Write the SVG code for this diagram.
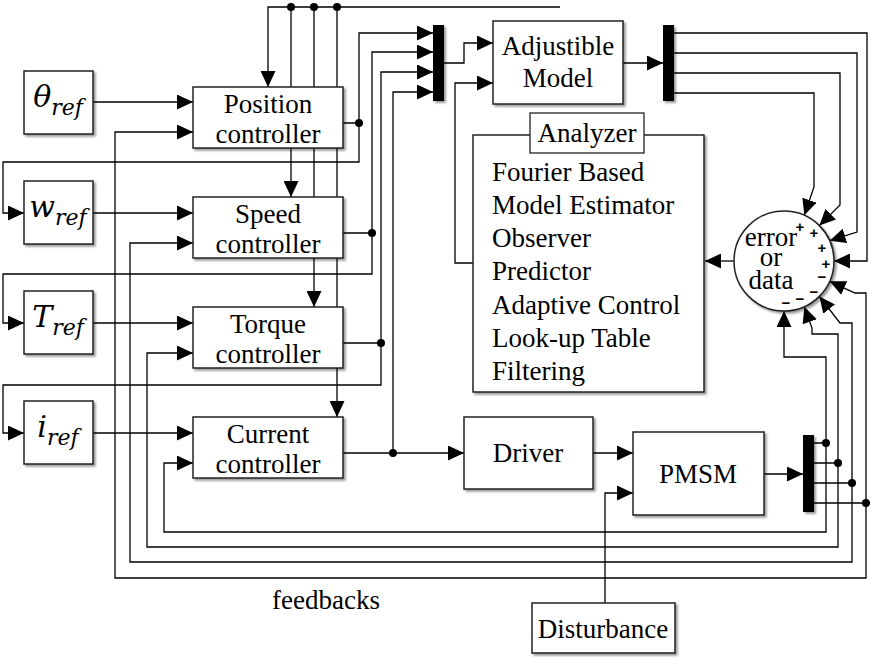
<svg xmlns="http://www.w3.org/2000/svg" width="873" height="658" viewBox="0 0 873 658">
<defs>
<style>
.ln{fill:none;stroke:#000;stroke-width:1.3}
.ar{marker-end:url(#ah)}
.box{fill:#fff;stroke:#222;stroke-width:1.5;filter:url(#sh)}
.bar{fill:#000;filter:url(#sh)}
.dot{fill:#000}
.t{font-family:"Liberation Serif","Times New Roman",serif;font-size:27px;fill:#000;text-anchor:middle}
.tl{font-family:"Liberation Serif","Times New Roman",serif;font-size:27px;fill:#000}
.m{font-family:"DejaVu Serif",serif;font-style:italic;fill:#000;text-anchor:middle}
.s{font-family:"Liberation Sans",Arial,sans-serif;font-weight:bold;font-size:15px;fill:#000;text-anchor:middle}
</style>
<marker id="ah" markerUnits="userSpaceOnUse" markerWidth="16" markerHeight="15" refX="16" refY="7.5" orient="auto">
<path d="M0,0 L16,7.5 L0,15 z" fill="#000"/>
</marker>
<filter id="sh" x="-50%" y="-10%" width="200%" height="130%">
<feDropShadow dx="2" dy="2" stdDeviation="1.2" flood-color="#000" flood-opacity="0.4"/>
</filter>
</defs>
<rect width="873" height="658" fill="#fff"/>

<g id="connectors">
<path class="ln ar" d="M93,102 H193"/>
<path class="ln ar" d="M93,213 H193"/>
<path class="ln ar" d="M93,323 H193"/>
<path class="ln ar" d="M93,433 H193"/>
<path class="ln ar" d="M560,7 H268 V87"/>
<path class="ln ar" d="M291,7 V197"/>
<path class="ln ar" d="M314,7 V307"/>
<path class="ln ar" d="M337,7 V417"/>
<path class="ln ar" d="M343,123 H359 V33 H433"/>
<path class="ln ar" d="M359,123 V162 H3 V213 H24"/>
<path class="ln ar" d="M343,233 H372 V52 H433"/>
<path class="ln ar" d="M372,233 V274 H3 V323 H24"/>
<path class="ln ar" d="M343,343 H381 V72 H433"/>
<path class="ln ar" d="M381,343 V385 H3 V433 H24"/>
<path class="ln ar" d="M343,453 H464"/>
<path class="ln ar" d="M393,453 V92 H433"/>
<path class="ln ar" d="M444,63 H464 V43 H493"/>
<path class="ln ar" d="M473,263 H455 V83 H493"/>
<path class="ln ar" d="M623,63 H663"/>
<path class="ln ar" d="M674,33 H867 V261 H834"/>
<path class="ln ar" d="M674,53 H857 V232 L829.7,240.7"/>
<path class="ln ar" d="M674,73 H840 V205 L819.4,225.6"/>
<path class="ln ar" d="M674,93 H814 V187 L804.3,215.3"/>
<path class="ln ar" d="M734,261 H705"/>
<path class="ln ar" d="M593,453 H633"/>
<path class="ln ar" d="M605,603 V493 H633"/>
<path class="ln ar" d="M764,474 H803"/>
<path class="ln ar" d="M814,443 H826 V357 H784 V311"/>
<path class="ln ar" d="M826,443 V532 H164 V463 H193"/>
<path class="ln ar" d="M814,463 H838 V334 H812 V328 L804.3,306.7"/>
<path class="ln ar" d="M838,463 V547 H147 V353 H193"/>
<path class="ln ar" d="M814,483 H852 V323 H840 L819.4,296.4"/>
<path class="ln ar" d="M852,483 V562 H130 V243 H193"/>
<path class="ln ar" d="M814,503 H866 V293 H855 L829.7,281.3"/>
<path class="ln ar" d="M866,503 V578 H115 V132 H193"/>
<circle class="dot" cx="291" cy="7" r="4"/>
<circle class="dot" cx="314" cy="7" r="4"/>
<circle class="dot" cx="337" cy="7" r="4"/>
<circle class="dot" cx="359" cy="123" r="4"/>
<circle class="dot" cx="372" cy="233" r="4"/>
<circle class="dot" cx="381" cy="343" r="4"/>
<circle class="dot" cx="393" cy="453" r="4"/>
<circle class="dot" cx="826" cy="443" r="4"/>
<circle class="dot" cx="838" cy="463" r="4"/>
<circle class="dot" cx="852" cy="483" r="4"/>
<circle class="dot" cx="866" cy="503" r="4"/>
</g>

<g id="theta_ref">
<rect class="box" x="24" y="71" width="69" height="63"/>
<text class="m" x="58" y="107"><tspan font-size="30">θ</tspan><tspan font-size="22" dy="8">ref</tspan></text>
</g>
<g id="w_ref">
<rect class="box" x="24" y="181" width="69" height="63"/>
<text class="m" x="58" y="217"><tspan font-size="30">w</tspan><tspan font-size="22" dy="8">ref</tspan></text>
</g>
<g id="T_ref">
<rect class="box" x="24" y="291" width="69" height="63"/>
<text class="m" x="58" y="327"><tspan font-size="30">T</tspan><tspan font-size="22" dy="8">ref</tspan></text>
</g>
<g id="i_ref">
<rect class="box" x="24" y="401" width="69" height="63"/>
<text class="m" x="58" y="437"><tspan font-size="30">i</tspan><tspan font-size="22" dy="8">ref</tspan></text>
</g>

<g id="position_controller">
<rect class="box" x="193" y="87" width="150" height="61"/>
<text class="t" x="268" y="113">Position</text>
<text class="t" x="268" y="143">controller</text>
</g>
<g id="speed_controller">
<rect class="box" x="193" y="197" width="150" height="61"/>
<text class="t" x="268" y="223">Speed</text>
<text class="t" x="268" y="253">controller</text>
</g>
<g id="torque_controller">
<rect class="box" x="193" y="307" width="150" height="61"/>
<text class="t" x="268" y="333">Torque</text>
<text class="t" x="268" y="363">controller</text>
</g>
<g id="current_controller">
<rect class="box" x="193" y="417" width="150" height="61"/>
<text class="t" x="268" y="443">Current</text>
<text class="t" x="268" y="473">controller</text>
</g>

<g id="mux_in">
<rect class="bar" x="433" y="25" width="11" height="76"/>
</g>
<g id="adjustible_model">
<rect class="box" x="493" y="21" width="130" height="83"/>
<text class="t" x="558" y="55">Adjustible</text>
<text class="t" x="558" y="87">Model</text>
</g>
<g id="mux_out">
<rect class="bar" x="663" y="25" width="11" height="76"/>
</g>

<g id="analyzer">
<rect class="box" x="473" y="135" width="231" height="257"/>
<rect x="530" y="113" width="114" height="40" fill="#fff" stroke="#222" stroke-width="1.3"/>
<text class="t" x="587" y="142">Analyzer</text>
<text class="tl" x="492" y="181">Fourier Based</text>
<text class="tl" x="492" y="214">Model Estimator</text>
<text class="tl" x="492" y="247">Observer</text>
<text class="tl" x="492" y="280">Predictor</text>
<text class="tl" x="492" y="314">Adaptive Control</text>
<text class="tl" x="492" y="347">Look-up Table</text>
<text class="tl" x="492" y="380">Filtering</text>
</g>

<g id="error_data">
<circle cx="784" cy="261" r="50" fill="#fff" stroke="#222" stroke-width="1.5" filter="url(#sh)"/>
<text class="t" x="771" y="246" font-size="24">error</text>
<text class="t" x="771" y="266" font-size="19">or</text>
<text class="t" x="771" y="289" font-size="24">data</text>
<text class="s" x="800" y="232">+</text>
<text class="s" x="814" y="238">+</text>
<text class="s" x="822" y="253">+</text>
<text class="s" x="826" y="269">+</text>
<text class="s" x="822" y="282">−</text>
<text class="s" x="814" y="297">−</text>
<text class="s" x="800" y="304">−</text>
<text class="s" x="786" y="308">−</text>
</g>

<g id="driver">
<rect class="box" x="464" y="417" width="129" height="72"/>
<text class="t" x="528" y="462">Driver</text>
</g>
<g id="pmsm">
<rect class="box" x="633" y="432" width="131" height="83"/>
<text class="t" x="698" y="483">PMSM</text>
</g>
<g id="mux_pmsm">
<rect class="bar" x="803" y="435" width="11" height="77"/>
</g>
<g id="disturbance">
<rect class="box" x="532" y="603" width="143" height="50"/>
<text class="t" x="603" y="638">Disturbance</text>
</g>
<g id="feedbacks_label">
<text class="t" x="326" y="609">feedbacks</text>
</g>
</svg>
